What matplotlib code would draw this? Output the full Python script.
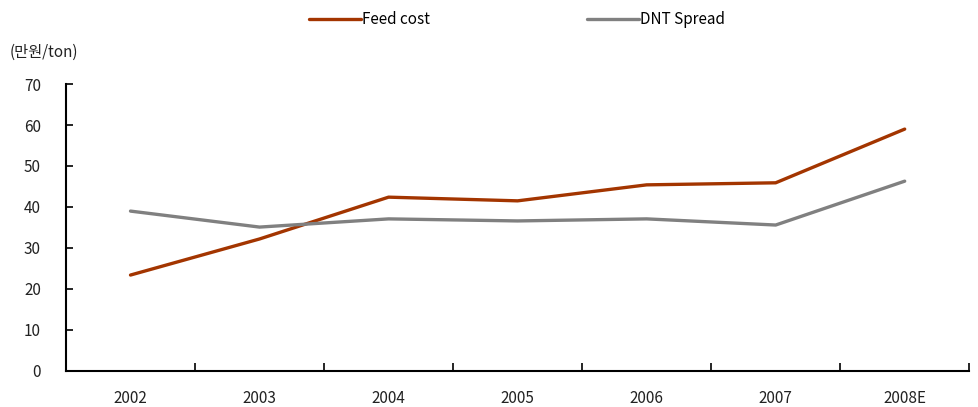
import numpy as np
from matplotlib import pyplot as plt

plt.rcParams['font.family'] = ['Noto Sans CJK KR', 'DejaVu Sans']

years = ["2002", "2003", "2004", "2005", "2006", "2007", "2008E"]
feed_cost = [23.4, 32.2, 42.4, 41.5, 45.4, 45.9, 59.0]
dnt_spread = [39.0, 35.1, 37.1, 36.6, 37.1, 35.6, 46.3]

x = np.arange(len(years)) + 0.5

fig = plt.figure(figsize=(9.79, 4.07), dpi=100)
ax = fig.add_axes([0.0674, 0.0885, 0.9226, 0.7051])

ax.plot(x, feed_cost, color="#A33500", linewidth=2.4, label="Feed cost",
        solid_capstyle="round")
ax.plot(x, dnt_spread, color="#808080", linewidth=2.4, label="DNT Spread",
        solid_capstyle="round")

ax.set_xlim(0, len(years))
ax.set_ylim(0, 70)
ax.set_yticks(range(0, 71, 10))
ax.set_xticks(np.arange(1, len(years) + 1))
ax.set_xticklabels([])
ax.set_xticks(x, minor=True)
ax.set_xticklabels(years, minor=True)

ax.tick_params(axis="y", direction="in", length=5, width=1.2, labelsize=11,
               colors="black", labelcolor="#222222", pad=18)
ax.tick_params(axis="x", which="major", direction="in", length=6, width=1.2)
ax.tick_params(axis="x", which="minor", length=0, labelsize=11,
               labelcolor="#222222", pad=14)

for side in ["top", "right"]:
    ax.spines[side].set_visible(False)
for side in ["left", "bottom"]:
    ax.spines[side].set_linewidth(1.5)

fig.text(0.010, 0.872, "(만원/ton)", fontsize=11, color="#222222", va="center")

fig.legend(loc="center", bbox_to_anchor=(0.528, 0.952), ncol=2, frameon=False,
           fontsize=11, handlelength=3.4, handletextpad=0.05, columnspacing=10.3)

fig.savefig("out.png", dpi=100)
